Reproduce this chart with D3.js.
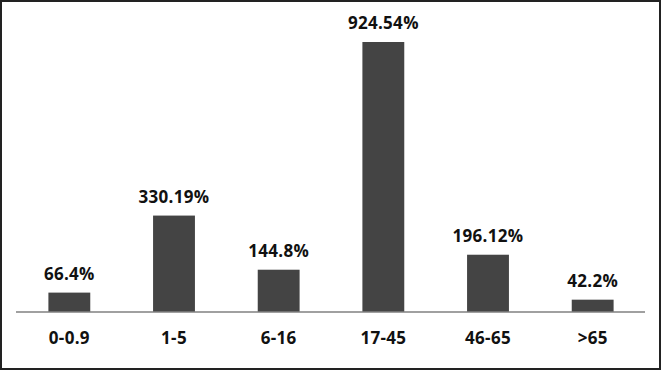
<!DOCTYPE html>
<html><head><meta charset="utf-8">
<script src="https://cdn.jsdelivr.net/npm/d3@7"></script>
<style>
html,body{margin:0;padding:0;background:#fff;}
svg{display:block;}
text{font-family:"Open Sans",sans-serif;font-weight:700;font-size:17px;fill:#111;letter-spacing:0.3px;}
</style></head>
<body>
<svg id="chart" width="661" height="370"></svg>
<script>
const categories = ["0-0.9","1-5","6-16","17-45","46-65",">65"];
const values = [66.4, 330.19, 144.8, 924.54, 196.12, 42.2];
const valueLabels = ["66.4%","330.19%","144.8%","924.54%","196.12%","42.2%"];

const W = 661, H = 370;
const svg = d3.select("#chart");
const x = d3.scaleBand().domain(categories).range([17, 645]).paddingInner(0.6).paddingOuter(0.3);
const y = d3.scaleLinear().domain([0, 924.54]).range([312, 42]);

svg.append("rect").attr("x",1).attr("y",1).attr("width",W-2).attr("height",H-2)
  .attr("fill","#fff").attr("stroke","#222").attr("stroke-width",2);

svg.selectAll("rect.bar").data(values).enter().append("rect").attr("class","bar")
  .attr("x",(d,i)=>x(categories[i])).attr("width",x.bandwidth())
  .attr("y",d=>y(d)).attr("height",d=>y(0)-y(d)).attr("fill","#444");

const axis = svg.append("g").attr("transform",`translate(0,${y(0)})`)
  .call(d3.axisBottom(x).tickSize(0).tickPadding(0).tickSizeOuter(0));
axis.select(".domain").attr("stroke","#808080").attr("stroke-width",1.5).attr("d","M16,0H645");
axis.selectAll(".tick text").attr("dy",null).attr("y",32).attr("font-size",17)
  .attr("font-family","'Open Sans',sans-serif").attr("fill","#111").attr("font-weight",700);

svg.selectAll("text.val").data(values).enter().append("text").attr("class","val")
  .attr("x",(d,i)=>x(categories[i])+x.bandwidth()/2).attr("y",d=>y(d)-13)
  .attr("text-anchor","middle").text((d,i)=>valueLabels[i]);
</script>
</body></html>
